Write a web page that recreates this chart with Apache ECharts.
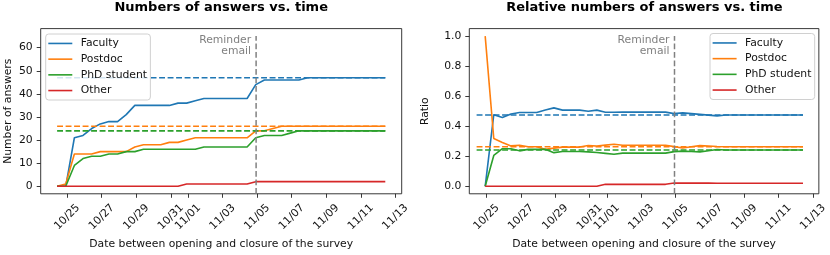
<!DOCTYPE html>
<html><head><meta charset="utf-8">
<script src="https://cdn.jsdelivr.net/npm/echarts@6/dist/echarts.min.js"></script>
<style>html,body{margin:0;padding:0;background:#fff}#c{width:830px;height:255px}</style>
</head><body><div id="c"></div>
<script>
// ---- data ----
const times = [
  '10-24 10:00','10-24 22:00','10-25 10:00','10-25 22:00','10-26 10:00','10-26 22:00',
  '10-27 10:00','10-27 22:00','10-28 10:00','10-28 22:00','10-29 10:00','10-29 22:00',
  '10-30 10:00','10-30 22:00','10-31 10:00','10-31 22:00','11-01 10:00','11-01 22:00',
  '11-02 10:00','11-02 22:00','11-03 10:00','11-03 22:00','11-04 10:00','11-04 22:00',
  '11-05 10:00','11-05 22:00','11-06 10:00','11-06 22:00','11-07 10:00','11-07 22:00',
  '11-08 10:00','11-08 22:00','11-09 10:00','11-09 22:00','11-10 10:00','11-10 22:00',
  '11-11 10:00','11-11 22:00','11-12 10:00'
];
const faculty = [0,0,21,22,25,27,28,28,31,35, 35,35,35,35,36,36,37,38,38,38, 38,38,38,44,46,46,46,46,46,47, 47,47,47,47,47,47,47,47,47];
const postdoc = [0,1,14,14,14,15,15,15,15,17, 18,18,18,19,19,20,21,21,21,21, 21,21,21,24,24,25,26,26,26,26, 26,26,26,26,26,26,26,26,26];
const phd     = [0,0,9,12,13,13,14,14,15,15, 16,16,16,16,16,16,16,17,17,17, 17,17,17,21,22,22,22,23,24,24, 24,24,24,24,24,24,24,24,24];
const other   = [0,0,0,0,0,0,0,0,0,0, 0,0,0,0,0,1,1,1,1,1, 1,1,1,2,2,2,2,2,2,2, 2,2,2,2,2,2,2,2,2];

const ratioFaculty = [null,0,0.477,0.458,0.481,0.491,0.491,0.491,0.508,0.522, 0.507,0.507,0.507,0.500,0.507,0.493,0.493,0.494,0.494,0.494, 0.494,0.494,0.494,0.484,0.489,0.484,0.479,0.474,0.469,0.475, 0.475,0.475,0.475,0.475,0.475,0.475,0.475,0.475,0.475];
const ratioPostdoc = [null,1.0,0.318,0.292,0.269,0.273,0.263,0.263,0.246,0.254, 0.261,0.261,0.261,0.271,0.268,0.274,0.280,0.273,0.273,0.273, 0.273,0.273,0.273,0.264,0.255,0.263,0.271,0.268,0.265,0.263, 0.263,0.263,0.263,0.263,0.263,0.263,0.263,0.263,0.263];
const ratioPhd     = [null,0,0.205,0.250,0.250,0.236,0.246,0.246,0.246,0.224, 0.232,0.232,0.232,0.229,0.225,0.219,0.213,0.221,0.221,0.221, 0.221,0.221,0.221,0.231,0.234,0.232,0.229,0.237,0.245,0.242, 0.242,0.242,0.242,0.242,0.242,0.242,0.242,0.242,0.242];
const ratioOther   = [null,0,0,0,0,0,0,0,0,0, 0,0,0,0,0,0.014,0.013,0.013,0.013,0.013, 0.013,0.013,0.013,0.022,0.021,0.021,0.021,0.021,0.020,0.020, 0.020,0.020,0.020,0.020,0.020,0.020,0.020,0.020,0.020];

const reminder = '11-04 22:30';
const reminderTopCount = 65;
const reminderTopRatio = 1.0;
const xTickDates = ['10-25','10-27','10-29','10-31','11-01','11-03','11-05','11-07','11-09','11-11','11-13'];
const yTicksCount = [0,10,20,30,40,50,60];
const yTicksRatio = [0,0.2,0.4,0.6,0.8,1.0];
const seriesNames = ['Faculty','Postdoc','PhD student','Other'];
const colors = ['#1f77b4','#ff7f0e','#2ca02c','#d62728'];

// ---- helpers ----
function ts(s){
  const parts = s.split(' ');
  const md = parts[0].split('-').map(Number);
  const hm = (parts[1] || '00:00').split(':').map(Number);
  return Date.UTC(2023, md[0]-1, md[1], hm[0], hm[1]);
}
function pad(n){ return (n<10?'0':'')+n; }
function fmtDate(v){ const d = new Date(v); return pad(d.getUTCMonth()+1)+'/'+pad(d.getUTCDate()); }

const FONT = 'DejaVu Sans';
const tX = times.map(ts);
const xTicks = xTickDates.map(ts);
const N = tX.length;

function span(a,b){ const s=b-a; return [a-0.05*s, b+0.05*s]; }
const xRangeL = span(tX[0], tX[N-1]);
const xRangeR = span(tX[1], tX[N-1]);
const yRangeL = [-3.25, 68.25];
const yRangeR = [-0.05, 1.05];

function xAxis(k, range){
  return {
    type:'value', gridIndex:k, min:range[0], max:range[1],
    splitLine:{show:false},
    axisLine:{show:false, onZero:false},
    axisTick:{show:true, customValues:xTicks, length:4, lineStyle:{color:'#222', width:0.9}},
    axisLabel:{customValues:xTicks, formatter:fmtDate, rotate:45, align:'center', verticalAlign:'middle',
      margin:23.3, fontSize:10.8, color:'#111', fontFamily:FONT},
    name:'Date between opening and closure of the survey', nameLocation:'middle', nameGap:38,
    nameTextStyle:{fontSize:10.8, color:'#111', fontFamily:FONT}
  };
}
function yAxis(k, range, ticks, name, gap, fmt){
  return {
    type:'value', gridIndex:k, min:range[0], max:range[1],
    splitLine:{show:false},
    axisLine:{show:false, onZero:false},
    axisTick:{show:true, customValues:ticks, length:4, lineStyle:{color:'#222', width:0.9}},
    axisLabel:{customValues:ticks, formatter:fmt, margin:8, fontSize:10.8, color:'#111', fontFamily:FONT},
    name:name, nameLocation:'middle', nameGap:gap,
    nameTextStyle:{fontSize:10.8, color:'#111', fontFamily:FONT}
  };
}

function buildSeries(k, arrays, yMin, yTop){
  const out = [];
  arrays.forEach((arr, j) => {
    out.push({
      type:'line', name:seriesNames[j], xAxisIndex:k, yAxisIndex:k,
      data: tX.map((t,i)=>[t, arr[i]]),
      symbol:'none', showSymbol:false, connectNulls:false,
      lineStyle:{width:1.6, color:colors[j]}, itemStyle:{color:colors[j]}, z:2
    });
  });
  // dashed horizontal lines at final values (Faculty, Postdoc, PhD student)
  for (let j=0;j<3;j++){
    const last = arrays[j][N-1];
    out.push({
      type:'line', name:seriesNames[j]+' final', xAxisIndex:k, yAxisIndex:k,
      data:[[tX[0], last],[tX[N-1], last]],
      symbol:'none', showSymbol:false,
      lineStyle:{width:1.6, color:colors[j], type:[5.9,2.6]}, itemStyle:{color:colors[j]}, z:3
    });
  }
  // reminder vertical dashed line + text
  const rt = ts(reminder);
  out.push({
    type:'line', name:'reminder', xAxisIndex:k, yAxisIndex:k,
    data:[[rt, yMin],[rt, yTop]],
    symbol:'none', showSymbol:false,
    lineStyle:{width:1.5, color:'#808080', type:[5.9,2.6]}, itemStyle:{color:'#808080'}, z:4,
    markPoint:{
      symbol:'circle', symbolSize:1, silent:true, animation:false,
      itemStyle:{color:'rgba(0,0,0,0)'},
      data:[{coord:[rt, yTop]}],
      label:{show:true, formatter:'Reminder\nemail', position:[-4.5,-1.5], align:'right', verticalAlign:'top',
        color:'#808080', fontSize:10.8, lineHeight:11.7, fontFamily:FONT}
    }
  });
  return out;
}

function legend(left, top){
  return {
    left:left, top:top, orient:'vertical', selectedMode:false,
    data: seriesNames.map(n => ({name:n, icon:'rect'})),
    itemWidth:24, itemHeight:1.6, itemGap:0, padding:[1.6,3.3,1.6,2.6],
    backgroundColor:'rgba(255,255,255,0.8)', borderColor:'#d0d0d0', borderWidth:1, borderRadius:3,
    textStyle:{fontSize:10.8, lineHeight:15.7, color:'#111', fontFamily:FONT, padding:[0,0,0,3.4]},
    z:10
  };
}

const chart = echarts.init(document.getElementById('c'), null, {renderer:'canvas'});
chart.setOption({
  animation:false,
  backgroundColor:'#fff',
  grid:[
    {left:40.7, top:28.6, width:361, height:176.1, show:true, borderColor:'#222', borderWidth:0.9, backgroundColor:'transparent'},
    {left:469.3, top:28.6, width:350.2, height:176.1, show:true, borderColor:'#222', borderWidth:0.9, backgroundColor:'transparent'}
  ],
  xAxis:[xAxis(0, xRangeL), xAxis(1, xRangeR)],
  yAxis:[
    yAxis(0, yRangeL, yTicksCount, 'Number of answers', 27, v=>String(v)),
    yAxis(1, yRangeR, yTicksRatio, 'Ratio', 38.9, v=>v.toFixed(1))
  ],
  legend:[legend(45.7, 34), legend(710, 33.5)],
  graphic:[
    {type:'text', x:221.2, y:8, style:{text:'Numbers of answers vs. time', font:'bold 13px "DejaVu Sans"', fill:'#000', align:'center', verticalAlign:'middle'}},
    {type:'text', x:644.4, y:8, style:{text:'Relative numbers of answers vs. time', font:'bold 13px "DejaVu Sans"', fill:'#000', align:'center', verticalAlign:'middle'}}
  ],
  series:[].concat(
    buildSeries(0, [faculty, postdoc, phd, other], yRangeL[0], reminderTopCount),
    buildSeries(1, [ratioFaculty, ratioPostdoc, ratioPhd, ratioOther], yRangeR[0], reminderTopRatio)
  )
});
</script>
</body></html>
